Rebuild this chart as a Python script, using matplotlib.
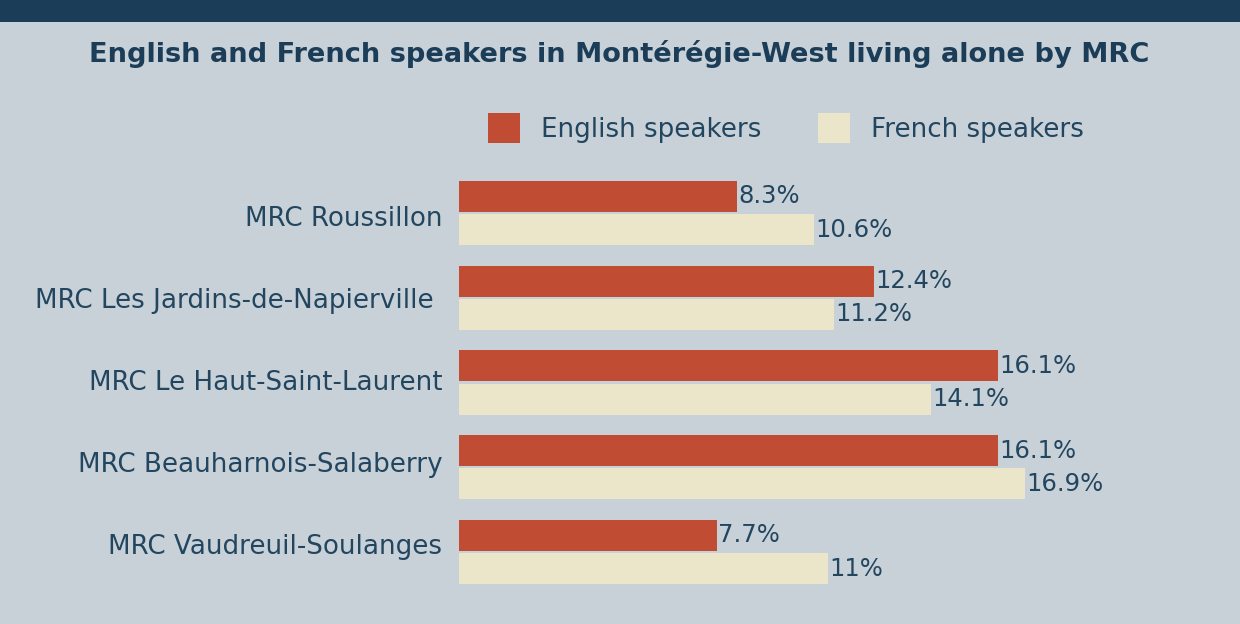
import matplotlib.pyplot as plt
import numpy as np

categories = ["MRC Roussillon", "MRC Les Jardins-de-Napierville ", "MRC Le Haut-Saint-Laurent",
              "MRC Beauharnois-Salaberry", "MRC Vaudreuil-Soulanges"]
english = [8.3, 12.4, 16.1, 16.1, 7.7]
french = [10.6, 11.2, 14.1, 16.9, 11.0]
english_labels = ["8.3%", "12.4%", "16.1%", "16.1%", "7.7%"]
french_labels = ["10.6%", "11.2%", "14.1%", "16.9%", "11%"]

bg = "#c9d1d8"
navy = "#1b3d57"
text_col = "#22465f"
red = "#c04c34"
cream = "#ebe6c9"

plt.rcParams["font.family"] = ["DejaVu Sans"]

W, H = 1240, 624
fig = plt.figure(figsize=(W / 100, H / 100), dpi=100, facecolor=bg)

# top band
band = fig.add_axes([0, 1 - 22 / H, 1, 22 / H])
band.set_facecolor(navy)
band.set_xticks([])
band.set_yticks([])
for s in band.spines.values():
    s.set_visible(False)

fig.text(619 / W, 1 - 54 / H, "English and French speakers in Montérégie-West living alone by MRC",
         ha="center", va="center", fontsize=19.6, fontweight="bold", color=navy)

ax = fig.add_axes([459 / W, (H - 594.4) / H, (W - 459) / W, 423.8 / H])
ax.set_facecolor(bg)
for s in ax.spines.values():
    s.set_visible(False)

y = np.arange(len(categories))
h = 0.366
off = 0.195
b1 = ax.barh(y - off, english, height=h, color=red, label="English speakers")
b2 = ax.barh(y + off, french, height=h, color=cream, label="French speakers")

for bars, labs in ((b1, english_labels), (b2, french_labels)):
    for bar, lab in zip(bars, labs):
        ax.text(bar.get_width() + 0.04, bar.get_y() + bar.get_height() / 2, lab,
                ha="left", va="center", fontsize=17.5, color=text_col)

fs = 18.8
ax.set_xlim(0, (W - 459) / 33.5)
ax.set_ylim(len(categories) - 0.5, -0.5)
ax.set_xticks([])
# category labels sit slightly off the group centres in the original
ax.set_yticks(y + 0.035 - 0.032 * y)
ax.set_yticklabels(categories, fontsize=fs, color=text_col)
ax.tick_params(axis="y", length=0, pad=12)

fig.legend(handles=[b1, b2], loc="center", bbox_to_anchor=(786 / W, 1 - 128 / H), ncol=2,
           frameon=False, fontsize=fs, labelcolor=text_col, handlelength=1.22, handleheight=1.4,
           columnspacing=2.2, handletextpad=0.8)

fig.savefig("out.png", dpi=100, facecolor=bg)
